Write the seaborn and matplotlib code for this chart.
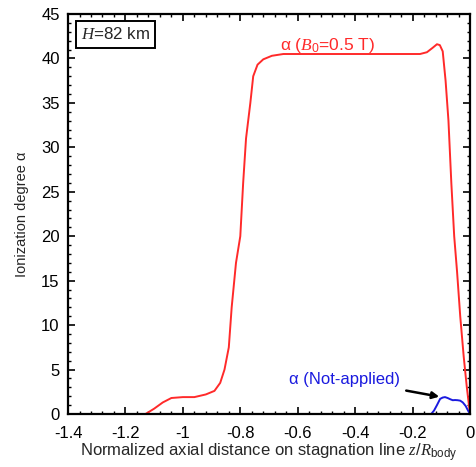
import matplotlib
matplotlib.use("Agg")
import matplotlib.pyplot as plt
import seaborn as sns
import pandas as pd
from matplotlib.ticker import MultipleLocator

sns.set_theme(style="ticks")
plt.rcParams['font.family'] = ['Liberation Sans', 'DejaVu Sans']
plt.rcParams['mathtext.fontset'] = 'custom'
plt.rcParams['mathtext.it'] = 'Liberation Serif:italic'
plt.rcParams['mathtext.rm'] = 'Liberation Sans'

# Red curve: B0 = 0.5 T
z_mag = [-1.40, -1.13, -1.10, -1.07, -1.04, -1.00, -0.96, -0.92, -0.89, -0.87,
         -0.855, -0.84, -0.83, -0.815, -0.80, -0.79, -0.78, -0.765, -0.755, -0.74,
         -0.72, -0.69, -0.65, -0.60, -0.40, -0.20, -0.174, -0.15, -0.13, -0.115,
         -0.105, -0.095, -0.085, -0.075, -0.065, -0.055, -0.045, -0.034, -0.022,
         -0.011, 0.0]
a_mag = [0.0, 0.0, 0.6, 1.3, 1.8, 1.9, 1.9, 2.2, 2.6, 3.5,
         5.0, 7.5, 12.0, 17.0, 20.0, 26.0, 31.0, 35.0, 38.0, 39.3,
         39.9, 40.3, 40.5, 40.5, 40.5, 40.5, 40.5, 40.7, 41.2, 41.6,
         41.5, 40.8, 37.5, 33.0, 26.0, 20.0, 16.0, 11.0, 6.5,
         3.0, 0.0]

# Blue curve: not applied
z_none = [-1.40, -0.135, -0.125, -0.115, -0.104, -0.095, -0.087, -0.078, -0.068,
          -0.060, -0.052, -0.043, -0.034, -0.025, -0.015, -0.007, 0.0]
a_none = [0.0, 0.0, 0.4, 1.0, 1.7, 1.85, 1.9, 1.8, 1.65,
          1.55, 1.57, 1.55, 1.5, 1.3, 0.9, 0.4, 0.0]

x_ticks = [-1.4, -1.2, -1.0, -0.8, -0.6, -0.4, -0.2, 0.0]
x_ticklabels = ["-1.4", "-1.2", "-1", "-0.8", "-0.6", "-0.4", "-0.2", "0"]

df_mag = pd.DataFrame({"z": z_mag, "a": a_mag})
df_none = pd.DataFrame({"z": z_none, "a": a_none})

fig = plt.figure(figsize=(4.77, 4.67), dpi=100)
ax = fig.add_axes([0.1426, 0.1135, 0.8427, 0.8565])

sns.lineplot(data=df_mag, x="z", y="a", sort=False, color="#ff2a2a", lw=1.4, ax=ax)
sns.lineplot(data=df_none, x="z", y="a", sort=False, color="#1a1adf", lw=1.4, ax=ax)

ax.set_xlim(-1.4, 0)
ax.set_ylim(0, 45)
ax.xaxis.set_minor_locator(MultipleLocator(0.04))
ax.yaxis.set_major_locator(MultipleLocator(5))
ax.yaxis.set_minor_locator(MultipleLocator(1))
ax.set_xticks(x_ticks)
ax.set_xticklabels(x_ticklabels)
ax.tick_params(which="both", direction="in", top=True, right=True, labelsize=12,
               color="black", labelcolor="black")
ax.tick_params(axis="x", which="major", pad=9)
ax.tick_params(axis="y", which="major", pad=6)
ax.tick_params(which="major", length=5, width=1.2)
ax.tick_params(which="minor", length=2.5, width=1.0)
for s in ax.spines.values():
    s.set_linewidth(1.6)
    s.set_color("black")

ax.set_xlabel(r"Normalized axial distance on stagnation line $z$/$R_{\mathrm{body}}$",
              fontsize=12, labelpad=0)
ax.set_ylabel("Ionization degree α", fontsize=10.5, labelpad=9)

ax.text(-0.498, 41.45, r"α ($B_0$=0.5 T)", color="#ff2a2a", fontsize=12.5,
        ha="center", va="center")
ax.annotate("α (Not-applied)", xy=(-0.107, 1.95), xytext=(-0.243, 3.9),
            color="#1a1adf", fontsize=12, ha="right", va="center",
            arrowprops=dict(arrowstyle="-|>", color="black", lw=1.8,
                            mutation_scale=10, shrinkA=2, shrinkB=0))
ax.text(-1.355, 42.7, r"$H$=82 km", fontsize=12.2, ha="left", va="center",
        bbox=dict(boxstyle="square,pad=0.3", fc="white", ec="black", lw=1.4))

if ax.get_legend():
    ax.get_legend().remove()

fig.savefig("out.png", dpi=100)
